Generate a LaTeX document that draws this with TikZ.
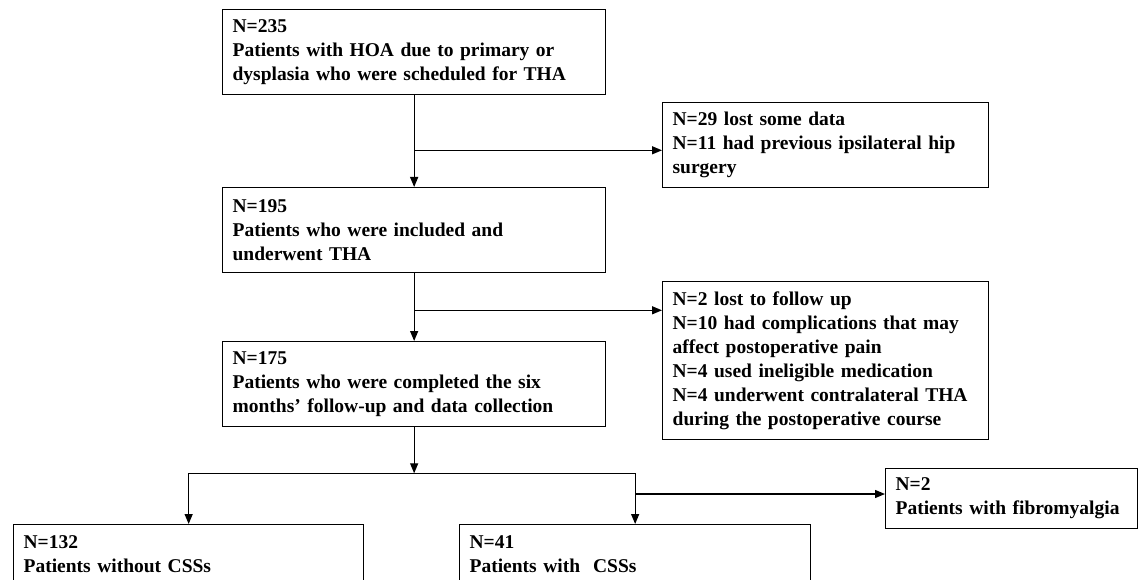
\documentclass[tikz,border=0pt]{standalone}
\usepackage{fontspec}
\setmainfont{Liberation Serif}
\usetikzlibrary{arrows.meta}
\begin{document}
\begin{tikzpicture}[x=1pt,y=-1pt,
  box/.style={draw=black, line width=1.3pt, inner xsep=10pt, inner ysep=0pt,
    align=left, anchor=north west, font=\fontsize{19.5}{24}\selectfont\bfseries},
  conn/.style={line width=1.3pt},
  arr/.style={conn, -{Triangle[length=10pt,width=8pt]}}]
\useasboundingbox (0,0) rectangle (1146,580);

\node[box, text width=363pt, minimum height=85pt] (b1) at (222,9)
  {N=235\\Patients with HOA due to primary or\\dysplasia who were scheduled for THA};
\node[box, text width=306pt, minimum height=85pt] (rb1) at (662,102)
  {N=29 lost some data\\N=11 had previous ipsilateral hip\\surgery};
\node[box, text width=363pt, minimum height=85pt] (b2) at (222,187)
  {N=195\\Patients who were included and\\underwent THA};
\node[box, text width=306pt, minimum height=158pt] (rb2) at (662,281)
  {N=2 lost to follow up\\N=10 had complications that may\\affect postoperative pain\\N=4 used ineligible medication\\N=4 underwent contralateral THA\\during the postoperative course};
\node[box, text width=363pt, minimum height=85pt] (b3) at (222,341)
  {N=175\\Patients who were completed the six\\months’ follow-up and data collection};
\node[box, text width=330pt, minimum height=60pt] (b4) at (13,524)
  {N=132\\Patients without CSSs};
\node[box, text width=331pt, minimum height=60pt] (b5) at (459,524)
  {N=41\\Patients with~ CSSs};
\node[box, text width=232pt, minimum height=60pt] (b6) at (885,468)
  {N=2\\Patients with fibromyalgia};

\path (b1.south) ++(0,55) coordinate (j1);
\path (b2.south) ++(0,37) coordinate (j2);
\path (b3.south) ++(0,46) coordinate (s);
\path (b5.north) ++(0,-30) coordinate (j3);

\draw[arr] (b1.south) -- (b2.north);
\draw[arr] (j1) -- (j1 -| rb1.west);
\draw[arr] (b2.south) -- (b3.north);
\draw[arr] (j2) -- (j2 -| rb2.west);
\draw[arr] (b3.south) -- (s);
\draw[conn] (b4.north |- s) -- (b5.north |- s);
\draw[arr] (b4.north |- s) -- (b4.north);
\draw[arr] (b5.north |- s) -- (b5.north);
\draw[arr] (j3) -- (j3 -| b6.west);
\end{tikzpicture}
\end{document}
